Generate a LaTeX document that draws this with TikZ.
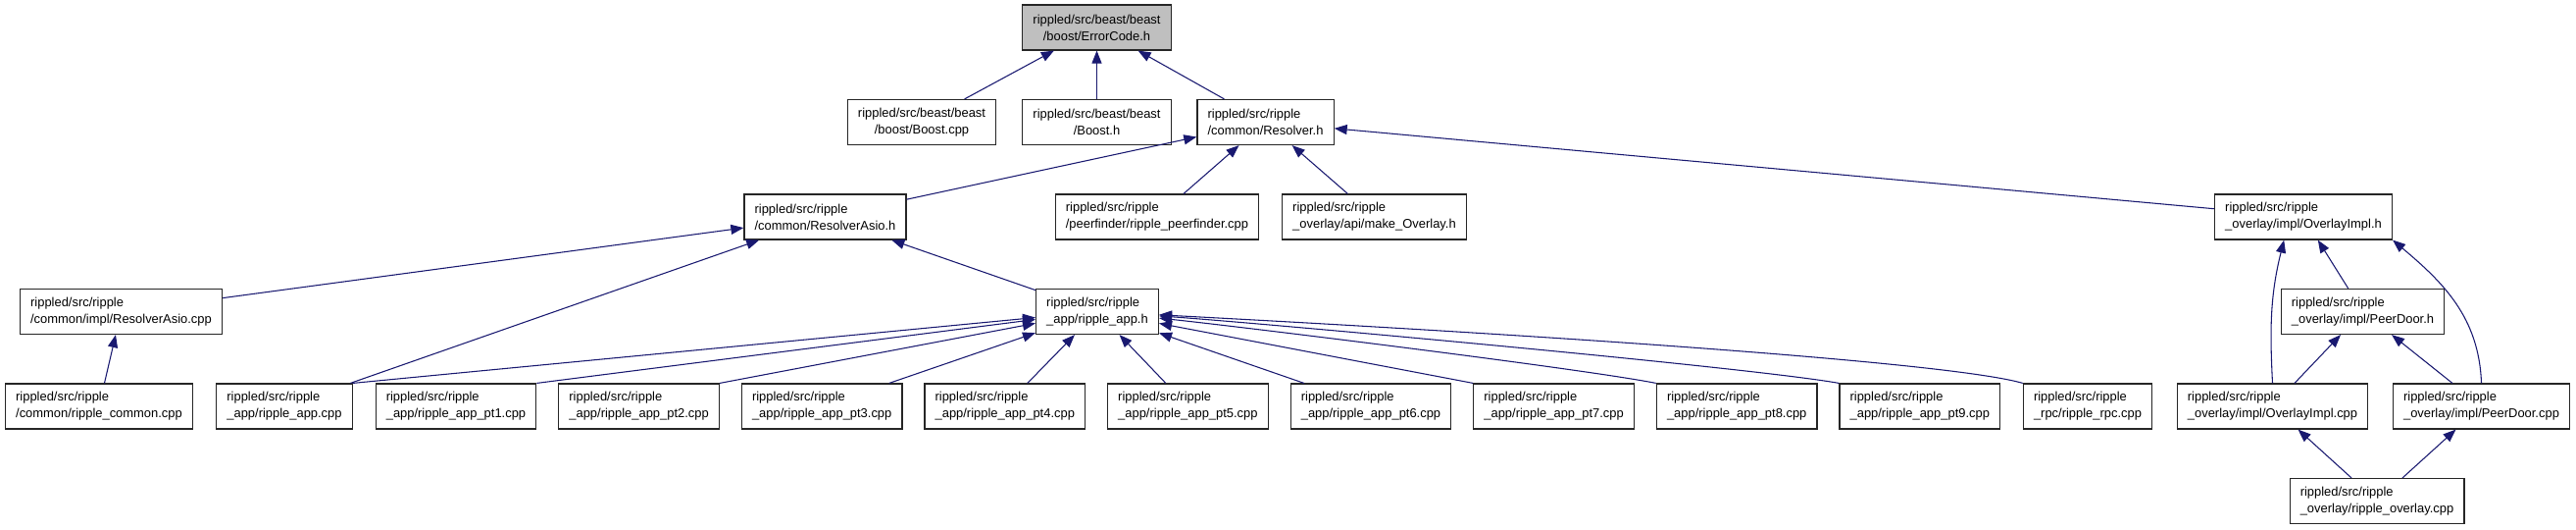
\documentclass[tikz,border=0pt]{standalone}
\usepackage{fontspec}
\setmainfont{Liberation Sans}
\usepackage{tikz}
\usetikzlibrary{arrows.meta}
\definecolor{link}{RGB}{25, 25, 112}
\definecolor{focus}{RGB}{191, 191, 191}
\newcommand*{\h}{34.5}

\begin{document}
\begin{tikzpicture}[
   x=0.75pt, y=0.75pt,
   font=\fontsize{9.7}{12.75}\selectfont,
   filerec/.style={rectangle, draw=black!85, fill=white, line width=0.9, text=black,
                   align=left, inner xsep=8, inner ysep=2, minimum height=\h},
   beastrec/.style={filerec, align=center},
   focusrec/.style={filerec, fill=focus, align=center},
   dep/.style={->, >={Triangle[length=9.75pt, width=7.5pt]}, color=link, line width=0.8}
  ]

  % Row Spacing
  \pgfmathsetmacro{\dy}{96.5}

  \useasboundingbox (0, 0) rectangle (2627, 539);

  \begin{scope}[shift={(0, 28.5)}]
    \node (E) at (1118.5, 5 * \dy) [focusrec] {rippled/src/beast/beast\\/boost/ErrorCode.h};

    \node (BC) at (940, 4 * \dy) [beastrec] {rippled/src/beast/beast\\/boost/Boost.cpp};
    \node (BH) at (1118.5, 4 * \dy) [beastrec] {rippled/src/beast/beast\\/Boost.h};
    \node (R) at (1290.5, 4 * \dy) [filerec] {rippled/src/ripple\\/common/Resolver.h};

    \node (RA) at (841.5, 3 * \dy) [filerec] {rippled/src/ripple\\/common/ResolverAsio.h};
    \node (PF) at (1180, 3 * \dy) [filerec] {rippled/src/ripple\\/peerfinder/ripple\_peerfinder.cpp};
    \node (MO) at (1401.5, 3 * \dy) [filerec] {rippled/src/ripple\\\_overlay/api/make\_Overlay.h};
    \node (OH) at (2349, 3 * \dy) [filerec] {rippled/src/ripple\\\_overlay/impl/OverlayImpl.h};

    \node (RAC) at (123.5, 2 * \dy) [filerec] {rippled/src/ripple\\/common/impl/ResolverAsio.cpp};
    \node (A) at (1119, 2 * \dy) [filerec] {rippled/src/ripple\\\_app/ripple\_app.h};
    \node (PH) at (2409.5, 2 * \dy) [filerec] {rippled/src/ripple\\\_overlay/impl/PeerDoor.h};

    \node (RC) at (101, 1 * \dy) [filerec] {rippled/src/ripple\\/common/ripple\_common.cpp};
    \node (AC) at (290, 1 * \dy) [filerec] {rippled/src/ripple\\\_app/ripple\_app.cpp};
    \foreach \i in {1,...,9} {
      \node (P\i) at ({465 + (\i - 1) * 186.6}, {1 * \dy}) [filerec] {rippled/src/ripple\\\_app/ripple\_app\_pt\i.cpp};
    }
    \node (RPC) at (2129, 1 * \dy) [filerec] {rippled/src/ripple\\\_rpc/ripple\_rpc.cpp};
    \node (OC) at (2317.5, 1 * \dy) [filerec] {rippled/src/ripple\\\_overlay/impl/OverlayImpl.cpp};
    \node (PC) at (2530.5, 1 * \dy) [filerec] {rippled/src/ripple\\\_overlay/impl/PeerDoor.cpp};

    \node (O) at (2424, 0 * \dy) [filerec] {rippled/src/ripple\\\_overlay/ripple\_overlay.cpp};

    \foreach \B/\E in {BC/E, BH/E, R/E, RA/R, PF/R, MO/R, OH/R, RAC/RA, AC/RA, A/RA, RC/RAC,
                       P3/A, P4/A, P5/A, P6/A, PH/OH, OC/PH, PC/PH, O/OC, O/PC} {
      \draw[dep] (\B) -- (\E);
    }
    \foreach \B in {AC, P1, P2} {
      \draw[dep] (\B.north east) -- (A);
    }
    \draw[dep] (P7.north west) -- (A);
    \draw[dep] (P8.north west) to[out=169, in=-6, looseness=0.4] (A);
    \draw[dep] (P9.north west) to[out=170, in=-4, looseness=0.35] (A);
    \draw[dep] (RPC.north west) to[out=164, in=-3, looseness=0.3] (A);

    \draw[dep] (OC.north) to[out=93, in=-104] (OH.-130);
    \draw[dep] (PC.north) to[out=92, in=-40] (OH.south east);
  \end{scope}

\end{tikzpicture}
\end{document}
